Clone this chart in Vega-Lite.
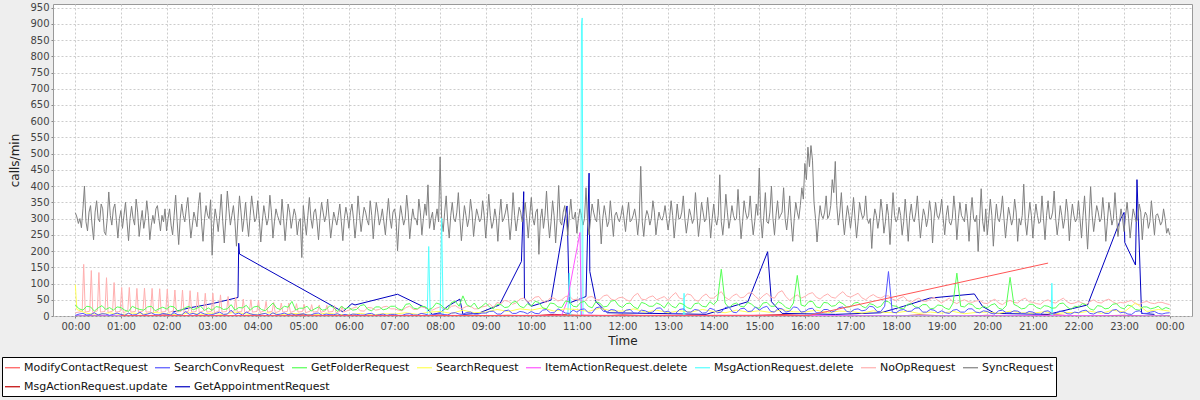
{
  "$schema": "https://vega.github.io/schema/vega-lite/v6.json",
  "width": 1139,
  "height": 312,
  "autosize": "none",
  "padding": {"left": 53, "top": 4, "right": 8, "bottom": 84},
  "background": "#EEEEEE",
  "config": {
    "view": {"fill": "white", "stroke": "#999999", "strokeWidth": 1},
    "font": "DejaVu Sans",
    "axis": {
      "grid": true, "gridColor": "#CCCCCC", "gridDash": [2, 2], "gridWidth": 1,
      "domain": false, "tickColor": "#888888", "tickSize": 2,
      "labelFont": "DejaVu Sans", "labelFontSize": 10, "labelColor": "#444444",
      "titleFont": "DejaVu Sans", "titleFontSize": 12, "titleFontWeight": "normal", "titleColor": "#222222"
    },
    "legend": {
      "labelFont": "DejaVu Sans", "labelFontSize": 11, "labelColor": "#111111"
    }
  },
  "datasets": {
    "sync": [
{"t":0,"v":318},{"t":2,"v":305},{"t":4,"v":285},{"t":6,"v":300},{"t":8,"v":272},{"t":10,"v":330},{"t":12,"v":400},{"t":14,"v":290},{"t":16,"v":262},{"t":18,"v":320},{"t":20,"v":340},{"t":22,"v":280},{"t":24,"v":235},{"t":26,"v":320},{"t":28,"v":355},{"t":30,"v":300},{"t":32,"v":290},{"t":34,"v":345},{"t":36,"v":330},{"t":38,"v":260},{"t":40,"v":250},{"t":42,"v":300},{"t":44,"v":382},{"t":46,"v":310},{"t":48,"v":280},{"t":50,"v":330},{"t":52,"v":345},{"t":54,"v":295},{"t":56,"v":240},{"t":58,"v":300},
{"t":60,"v":325},{"t":62,"v":270},{"t":64,"v":310},{"t":66,"v":350},{"t":68,"v":290},{"t":70,"v":232},{"t":72,"v":300},{"t":74,"v":338},{"t":76,"v":300},{"t":78,"v":280},{"t":80,"v":360},{"t":82,"v":320},{"t":84,"v":245},{"t":86,"v":290},{"t":88,"v":325},{"t":90,"v":270},{"t":92,"v":300},{"t":94,"v":355},{"t":96,"v":310},{"t":98,"v":235},{"t":100,"v":280},{"t":102,"v":310},{"t":104,"v":285},{"t":106,"v":330},{"t":108,"v":340},{"t":110,"v":300},{"t":112,"v":262},{"t":114,"v":310},{"t":116,"v":290},{"t":118,"v":330},
{"t":120,"v":262},{"t":122,"v":300},{"t":124,"v":330},{"t":126,"v":280},{"t":128,"v":250},{"t":130,"v":310},{"t":132,"v":372},{"t":134,"v":290},{"t":136,"v":220},{"t":138,"v":300},{"t":140,"v":345},{"t":142,"v":310},{"t":144,"v":290},{"t":146,"v":330},{"t":148,"v":365},{"t":150,"v":300},{"t":152,"v":240},{"t":154,"v":280},{"t":156,"v":320},{"t":158,"v":300},{"t":160,"v":275},{"t":162,"v":340},{"t":164,"v":380},{"t":166,"v":290},{"t":168,"v":230},{"t":170,"v":300},{"t":172,"v":340},{"t":174,"v":310},{"t":176,"v":300},{"t":178,"v":358},
{"t":180,"v":187},{"t":182,"v":280},{"t":184,"v":330},{"t":186,"v":300},{"t":188,"v":260},{"t":190,"v":310},{"t":192,"v":375},{"t":194,"v":290},{"t":196,"v":225},{"t":198,"v":300},{"t":200,"v":385},{"t":202,"v":330},{"t":204,"v":280},{"t":206,"v":310},{"t":208,"v":340},{"t":210,"v":290},{"t":212,"v":215},{"t":214,"v":300},{"t":216,"v":370},{"t":218,"v":320},{"t":220,"v":260},{"t":222,"v":300},{"t":224,"v":350},{"t":226,"v":290},{"t":228,"v":245},{"t":230,"v":310},{"t":232,"v":370},{"t":234,"v":330},{"t":236,"v":290},{"t":238,"v":300},
{"t":240,"v":355},{"t":242,"v":300},{"t":244,"v":228},{"t":246,"v":290},{"t":248,"v":340},{"t":250,"v":310},{"t":252,"v":280},{"t":254,"v":300},{"t":256,"v":372},{"t":258,"v":320},{"t":260,"v":240},{"t":262,"v":290},{"t":264,"v":330},{"t":266,"v":310},{"t":268,"v":295},{"t":270,"v":280},{"t":272,"v":360},{"t":274,"v":300},{"t":276,"v":232},{"t":278,"v":290},{"t":280,"v":345},{"t":282,"v":320},{"t":284,"v":270},{"t":286,"v":300},{"t":288,"v":330},{"t":290,"v":310},{"t":292,"v":250},{"t":294,"v":290},{"t":296,"v":300},{"t":298,"v":180},
{"t":300,"v":340},{"t":302,"v":290},{"t":304,"v":250},{"t":306,"v":310},{"t":308,"v":365},{"t":310,"v":300},{"t":312,"v":270},{"t":314,"v":320},{"t":316,"v":330},{"t":318,"v":290},{"t":320,"v":235},{"t":322,"v":300},{"t":324,"v":350},{"t":326,"v":320},{"t":328,"v":290},{"t":330,"v":310},{"t":332,"v":360},{"t":334,"v":300},{"t":336,"v":240},{"t":338,"v":280},{"t":340,"v":320},{"t":342,"v":300},{"t":344,"v":280},{"t":346,"v":310},{"t":348,"v":345},{"t":350,"v":290},{"t":352,"v":232},{"t":354,"v":300},{"t":356,"v":335},{"t":358,"v":310},
{"t":360,"v":270},{"t":362,"v":320},{"t":364,"v":345},{"t":366,"v":300},{"t":368,"v":240},{"t":370,"v":290},{"t":372,"v":370},{"t":374,"v":310},{"t":376,"v":260},{"t":378,"v":300},{"t":380,"v":335},{"t":382,"v":320},{"t":384,"v":295},{"t":386,"v":280},{"t":388,"v":355},{"t":390,"v":310},{"t":392,"v":238},{"t":394,"v":300},{"t":396,"v":350},{"t":398,"v":320},{"t":400,"v":280},{"t":402,"v":300},{"t":404,"v":330},{"t":406,"v":290},{"t":408,"v":250},{"t":410,"v":310},{"t":412,"v":362},{"t":414,"v":300},{"t":416,"v":270},{"t":418,"v":320},
{"t":420,"v":330},{"t":422,"v":300},{"t":424,"v":201},{"t":426,"v":290},{"t":428,"v":340},{"t":430,"v":310},{"t":432,"v":280},{"t":434,"v":300},{"t":436,"v":372},{"t":438,"v":320},{"t":440,"v":238},{"t":442,"v":290},{"t":444,"v":330},{"t":446,"v":300},{"t":448,"v":300},{"t":450,"v":280},{"t":452,"v":360},{"t":454,"v":320},{"t":456,"v":250},{"t":458,"v":300},{"t":460,"v":345},{"t":462,"v":310},{"t":464,"v":404},{"t":466,"v":270},{"t":468,"v":300},{"t":470,"v":320},{"t":472,"v":265},{"t":474,"v":300},{"t":476,"v":330},{"t":478,"v":290},
{"t":480,"v":490},{"t":482,"v":300},{"t":484,"v":260},{"t":486,"v":320},{"t":488,"v":370},{"t":490,"v":290},{"t":492,"v":240},{"t":494,"v":310},{"t":496,"v":350},{"t":498,"v":300},{"t":500,"v":290},{"t":502,"v":320},{"t":504,"v":380},{"t":506,"v":300},{"t":508,"v":232},{"t":510,"v":290},{"t":512,"v":340},{"t":514,"v":310},{"t":516,"v":275},{"t":518,"v":300},{"t":520,"v":360},{"t":522,"v":320},{"t":524,"v":245},{"t":526,"v":290},{"t":528,"v":330},{"t":530,"v":310},{"t":532,"v":290},{"t":534,"v":300},{"t":536,"v":355},{"t":538,"v":310},
{"t":540,"v":240},{"t":542,"v":300},{"t":544,"v":375},{"t":546,"v":310},{"t":548,"v":270},{"t":550,"v":290},{"t":552,"v":330},{"t":554,"v":300},{"t":556,"v":230},{"t":558,"v":310},{"t":560,"v":360},{"t":562,"v":290},{"t":564,"v":300},{"t":566,"v":320},{"t":568,"v":345},{"t":570,"v":300},{"t":572,"v":235},{"t":574,"v":290},{"t":576,"v":380},{"t":578,"v":310},{"t":580,"v":262},{"t":582,"v":300},{"t":584,"v":335},{"t":586,"v":320},{"t":588,"v":290},{"t":590,"v":310},{"t":592,"v":350},{"t":594,"v":300},{"t":596,"v":240},{"t":598,"v":310},
{"t":600,"v":365},{"t":602,"v":300},{"t":604,"v":280},{"t":606,"v":320},{"t":608,"v":330},{"t":610,"v":190},{"t":612,"v":300},{"t":614,"v":330},{"t":616,"v":270},{"t":618,"v":310},{"t":620,"v":385},{"t":622,"v":300},{"t":624,"v":240},{"t":626,"v":290},{"t":628,"v":355},{"t":630,"v":310},{"t":632,"v":225},{"t":634,"v":300},{"t":636,"v":402},{"t":638,"v":290},{"t":640,"v":280},{"t":642,"v":320},{"t":644,"v":340},{"t":646,"v":300},{"t":648,"v":248},{"t":650,"v":310},{"t":652,"v":360},{"t":654,"v":300},{"t":656,"v":300},{"t":658,"v":320},
{"t":660,"v":255},{"t":662,"v":300},{"t":664,"v":330},{"t":666,"v":310},{"t":668,"v":280},{"t":670,"v":300},{"t":672,"v":395},{"t":674,"v":290},{"t":676,"v":250},{"t":678,"v":300},{"t":680,"v":345},{"t":682,"v":320},{"t":684,"v":300},{"t":686,"v":290},{"t":688,"v":360},{"t":690,"v":310},{"t":692,"v":222},{"t":694,"v":300},{"t":696,"v":340},{"t":698,"v":310},{"t":700,"v":275},{"t":702,"v":290},{"t":704,"v":355},{"t":706,"v":300},{"t":708,"v":245},{"t":710,"v":310},{"t":712,"v":320},{"t":714,"v":300},{"t":716,"v":290},{"t":718,"v":310},
{"t":720,"v":340},{"t":722,"v":300},{"t":724,"v":260},{"t":726,"v":310},{"t":728,"v":350},{"t":730,"v":290},{"t":732,"v":295},{"t":734,"v":310},{"t":736,"v":330},{"t":738,"v":300},{"t":740,"v":250},{"t":742,"v":300},{"t":744,"v":461},{"t":746,"v":290},{"t":748,"v":245},{"t":750,"v":300},{"t":752,"v":325},{"t":754,"v":310},{"t":756,"v":280},{"t":758,"v":300},{"t":760,"v":355},{"t":762,"v":320},{"t":764,"v":250},{"t":766,"v":290},{"t":768,"v":320},{"t":770,"v":300},{"t":772,"v":295},{"t":774,"v":310},{"t":776,"v":340},{"t":778,"v":300},
{"t":780,"v":265},{"t":782,"v":300},{"t":784,"v":355},{"t":786,"v":310},{"t":788,"v":240},{"t":790,"v":290},{"t":792,"v":345},{"t":794,"v":300},{"t":796,"v":300},{"t":798,"v":320},{"t":800,"v":370},{"t":802,"v":300},{"t":804,"v":255},{"t":806,"v":290},{"t":808,"v":330},{"t":810,"v":310},{"t":812,"v":285},{"t":814,"v":300},{"t":816,"v":380},{"t":818,"v":310},{"t":820,"v":245},{"t":822,"v":290},{"t":824,"v":350},{"t":826,"v":320},{"t":828,"v":290},{"t":830,"v":300},{"t":832,"v":365},{"t":834,"v":310},{"t":836,"v":240},{"t":838,"v":300},
{"t":840,"v":345},{"t":842,"v":300},{"t":844,"v":280},{"t":846,"v":310},{"t":848,"v":435},{"t":850,"v":290},{"t":852,"v":250},{"t":854,"v":300},{"t":856,"v":375},{"t":858,"v":320},{"t":860,"v":270},{"t":862,"v":300},{"t":864,"v":340},{"t":866,"v":310},{"t":868,"v":295},{"t":870,"v":300},{"t":872,"v":390},{"t":874,"v":310},{"t":876,"v":238},{"t":878,"v":290},{"t":880,"v":355},{"t":882,"v":320},{"t":884,"v":300},{"t":886,"v":310},{"t":888,"v":370},{"t":890,"v":300},{"t":892,"v":250},{"t":894,"v":290},{"t":896,"v":345},{"t":898,"v":310},
{"t":900,"v":456},{"t":902,"v":300},{"t":904,"v":240},{"t":906,"v":310},{"t":908,"v":380},{"t":910,"v":290},{"t":912,"v":285},{"t":914,"v":320},{"t":916,"v":400},{"t":918,"v":300},{"t":920,"v":250},{"t":922,"v":310},{"t":924,"v":355},{"t":926,"v":300},{"t":928,"v":310},{"t":930,"v":320},{"t":932,"v":395},{"t":934,"v":300},{"t":936,"v":265},{"t":938,"v":310},{"t":940,"v":370},{"t":942,"v":290},{"t":944,"v":230},{"t":946,"v":300},{"t":948,"v":350},{"t":950,"v":320},{"t":952,"v":300},{"t":954,"v":340},{"t":956,"v":395},{"t":958,"v":360},
{"t":960,"v":470},{"t":962,"v":420},{"t":964,"v":520},{"t":966,"v":460},{"t":968,"v":525},{"t":970,"v":480},{"t":972,"v":350},{"t":974,"v":300},{"t":976,"v":228},{"t":978,"v":290},{"t":980,"v":340},{"t":982,"v":310},{"t":984,"v":300},{"t":986,"v":320},{"t":988,"v":370},{"t":990,"v":300},{"t":992,"v":310},{"t":994,"v":340},{"t":996,"v":420},{"t":998,"v":380},{"t":1000,"v":476},{"t":1002,"v":340},{"t":1004,"v":280},{"t":1006,"v":320},{"t":1008,"v":380},{"t":1010,"v":300},{"t":1012,"v":250},{"t":1014,"v":300},{"t":1016,"v":340},{"t":1018,"v":310},
{"t":1020,"v":270},{"t":1022,"v":310},{"t":1024,"v":365},{"t":1026,"v":300},{"t":1028,"v":240},{"t":1030,"v":290},{"t":1032,"v":350},{"t":1034,"v":320},{"t":1036,"v":300},{"t":1038,"v":310},{"t":1040,"v":370},{"t":1042,"v":300},{"t":1044,"v":285},{"t":1046,"v":300},{"t":1048,"v":208},{"t":1050,"v":290},{"t":1052,"v":330},{"t":1054,"v":310},{"t":1056,"v":270},{"t":1058,"v":300},{"t":1060,"v":360},{"t":1062,"v":320},{"t":1064,"v":255},{"t":1066,"v":290},{"t":1068,"v":345},{"t":1070,"v":310},{"t":1072,"v":220},{"t":1074,"v":300},{"t":1076,"v":380},{"t":1078,"v":310},
{"t":1080,"v":290},{"t":1082,"v":300},{"t":1084,"v":335},{"t":1086,"v":310},{"t":1088,"v":250},{"t":1090,"v":290},{"t":1092,"v":360},{"t":1094,"v":300},{"t":1096,"v":230},{"t":1098,"v":310},{"t":1100,"v":345},{"t":1102,"v":300},{"t":1104,"v":290},{"t":1106,"v":320},{"t":1108,"v":370},{"t":1110,"v":300},{"t":1112,"v":240},{"t":1114,"v":290},{"t":1116,"v":330},{"t":1118,"v":310},{"t":1120,"v":275},{"t":1122,"v":300},{"t":1124,"v":355},{"t":1126,"v":320},{"t":1128,"v":225},{"t":1130,"v":300},{"t":1132,"v":350},{"t":1134,"v":310},{"t":1136,"v":300},{"t":1138,"v":320},
{"t":1140,"v":360},{"t":1142,"v":300},{"t":1144,"v":250},{"t":1146,"v":310},{"t":1148,"v":340},{"t":1150,"v":290},{"t":1152,"v":280},{"t":1154,"v":300},{"t":1156,"v":370},{"t":1158,"v":320},{"t":1160,"v":235},{"t":1162,"v":300},{"t":1164,"v":350},{"t":1166,"v":310},{"t":1168,"v":300},{"t":1170,"v":290},{"t":1172,"v":345},{"t":1174,"v":300},{"t":1176,"v":230},{"t":1178,"v":310},{"t":1180,"v":365},{"t":1182,"v":300},{"t":1184,"v":290},{"t":1186,"v":310},{"t":1188,"v":199},{"t":1190,"v":300},{"t":1192,"v":392},{"t":1194,"v":290},{"t":1196,"v":260},{"t":1198,"v":330},
{"t":1200,"v":250},{"t":1202,"v":300},{"t":1204,"v":360},{"t":1206,"v":310},{"t":1208,"v":215},{"t":1210,"v":290},{"t":1212,"v":345},{"t":1214,"v":300},{"t":1216,"v":290},{"t":1218,"v":320},{"t":1220,"v":370},{"t":1222,"v":300},{"t":1224,"v":240},{"t":1226,"v":290},{"t":1228,"v":335},{"t":1230,"v":310},{"t":1232,"v":280},{"t":1234,"v":300},{"t":1236,"v":360},{"t":1238,"v":320},{"t":1240,"v":230},{"t":1242,"v":300},{"t":1244,"v":280},{"t":1246,"v":310},{"t":1248,"v":406},{"t":1250,"v":290},{"t":1252,"v":250},{"t":1254,"v":300},{"t":1256,"v":350},{"t":1258,"v":310},
{"t":1260,"v":240},{"t":1262,"v":300},{"t":1264,"v":345},{"t":1266,"v":310},{"t":1268,"v":285},{"t":1270,"v":290},{"t":1272,"v":370},{"t":1274,"v":300},{"t":1276,"v":235},{"t":1278,"v":310},{"t":1280,"v":355},{"t":1282,"v":300},{"t":1284,"v":300},{"t":1286,"v":320},{"t":1288,"v":385},{"t":1290,"v":300},{"t":1292,"v":250},{"t":1294,"v":290},{"t":1296,"v":340},{"t":1298,"v":310},{"t":1300,"v":270},{"t":1302,"v":300},{"t":1304,"v":360},{"t":1306,"v":320},{"t":1308,"v":232},{"t":1310,"v":300},{"t":1312,"v":345},{"t":1314,"v":310},{"t":1316,"v":290},{"t":1318,"v":300},
{"t":1320,"v":355},{"t":1322,"v":300},{"t":1324,"v":240},{"t":1326,"v":310},{"t":1328,"v":370},{"t":1330,"v":290},{"t":1332,"v":206},{"t":1334,"v":300},{"t":1336,"v":398},{"t":1338,"v":310},{"t":1340,"v":260},{"t":1342,"v":300},{"t":1344,"v":340},{"t":1346,"v":320},{"t":1348,"v":290},{"t":1350,"v":300},{"t":1352,"v":365},{"t":1354,"v":310},{"t":1356,"v":230},{"t":1358,"v":290},{"t":1360,"v":350},{"t":1362,"v":320},{"t":1364,"v":280},{"t":1366,"v":300},{"t":1368,"v":380},{"t":1370,"v":310},{"t":1372,"v":245},{"t":1374,"v":290},{"t":1376,"v":330},{"t":1378,"v":300},
{"t":1380,"v":260},{"t":1382,"v":310},{"t":1384,"v":350},{"t":1386,"v":300},{"t":1388,"v":240},{"t":1390,"v":290},{"t":1392,"v":330},{"t":1394,"v":310},{"t":1396,"v":290},{"t":1398,"v":300},{"t":1400,"v":345},{"t":1402,"v":320},{"t":1404,"v":235},{"t":1406,"v":300},{"t":1408,"v":320},{"t":1410,"v":310},{"t":1412,"v":270},{"t":1414,"v":290},{"t":1416,"v":355},{"t":1418,"v":300},{"t":1420,"v":250},{"t":1422,"v":310},{"t":1424,"v":315},{"t":1426,"v":300},{"t":1428,"v":280},{"t":1430,"v":290},{"t":1432,"v":330},{"t":1434,"v":300},{"t":1436,"v":255},{"t":1438,"v":270},{"t":1440,"v":250}
    ],
    "m5": [
{"t":0,"g":34,"b":2},{"t":5,"g":22,"b":6},{"t":10,"g":18,"b":8},{"t":15,"g":30,"b":3},{"t":20,"g":28,"b":4},{"t":25,"g":15,"b":10},{"t":30,"g":25,"b":3},{"t":35,"g":32,"b":7},{"t":40,"g":20,"b":6},{"t":45,"g":26,"b":2},{"t":50,"g":18,"b":5},{"t":55,"g":28,"b":9},
{"t":60,"g":26,"b":5},{"t":65,"g":18,"b":2},{"t":70,"g":14,"b":9},{"t":75,"g":30,"b":3},{"t":80,"g":24,"b":4},{"t":85,"g":20,"b":12},{"t":90,"g":18,"b":3},{"t":95,"g":28,"b":6},{"t":100,"g":30,"b":10},{"t":105,"g":16,"b":4},{"t":110,"g":22,"b":3},{"t":115,"g":27,"b":8},
{"t":120,"g":22,"b":6},{"t":125,"g":30,"b":3},{"t":130,"g":28,"b":10},{"t":135,"g":15,"b":4},{"t":140,"g":19,"b":3},{"t":145,"g":26,"b":14},{"t":150,"g":30,"b":5},{"t":155,"g":19,"b":8},{"t":160,"g":24,"b":4},{"t":165,"g":30,"b":11},{"t":170,"g":17,"b":6},{"t":175,"g":25,"b":3},
{"t":180,"g":17,"b":4},{"t":185,"g":29,"b":8},{"t":190,"g":27,"b":12},{"t":195,"g":20,"b":5},{"t":200,"g":22,"b":6},{"t":205,"g":35,"b":18},{"t":210,"g":18,"b":5},{"t":215,"g":26,"b":9},{"t":220,"g":25,"b":3},{"t":225,"g":33,"b":12},{"t":230,"g":18,"b":7},{"t":235,"g":28,"b":4},
{"t":240,"g":30,"b":3},{"t":245,"g":20,"b":6},{"t":250,"g":16,"b":8},{"t":255,"g":28,"b":2},{"t":260,"g":40,"b":10},{"t":265,"g":24,"b":4},{"t":270,"g":20,"b":6},{"t":275,"g":30,"b":9},{"t":280,"g":27,"b":4},{"t":285,"g":45,"b":7},{"t":290,"g":18,"b":2},{"t":295,"g":24,"b":5},
{"t":300,"g":24,"b":7},{"t":305,"g":30,"b":3},{"t":310,"g":15,"b":3},{"t":315,"g":22,"b":8},{"t":320,"g":28,"b":9},{"t":325,"g":18,"b":2},{"t":330,"g":20,"b":6},{"t":335,"g":32,"b":4},{"t":340,"g":26,"b":4},{"t":345,"g":14,"b":7},{"t":350,"g":30,"b":2},{"t":355,"g":22,"b":5},
{"t":360,"g":26,"b":2},{"t":365,"g":18,"b":6},{"t":370,"g":20,"b":5},{"t":375,"g":32,"b":3},{"t":380,"g":35,"b":3},{"t":385,"g":20,"b":7},{"t":390,"g":16,"b":8},{"t":395,"g":28,"b":2},{"t":400,"g":28,"b":4},{"t":405,"g":19,"b":6},{"t":410,"g":22,"b":2},{"t":415,"g":30,"b":5},
{"t":420,"g":30,"b":5},{"t":425,"g":22,"b":2},{"t":430,"g":18,"b":2},{"t":435,"g":36,"b":6},{"t":440,"g":38,"b":7},{"t":445,"g":24,"b":3},{"t":450,"g":22,"b":3},{"t":455,"g":30,"b":8},{"t":460,"g":29,"b":6},{"t":465,"g":20,"b":2},{"t":470,"g":25,"b":4},{"t":475,"g":40,"b":6},
{"t":480,"g":36,"b":8},{"t":485,"g":25,"b":4},{"t":490,"g":20,"b":3},{"t":495,"g":42,"b":9},{"t":500,"g":45,"b":10},{"t":505,"g":30,"b":6},{"t":510,"g":62,"b":5},{"t":515,"g":35,"b":11},{"t":520,"g":28,"b":12},{"t":525,"g":40,"b":6},{"t":530,"g":22,"b":6},{"t":535,"g":30,"b":9},
{"t":540,"g":40,"b":9},{"t":545,"g":28,"b":14},{"t":550,"g":22,"b":15},{"t":555,"g":36,"b":6},{"t":560,"g":35,"b":6},{"t":565,"g":26,"b":16},{"t":570,"g":28,"b":18},{"t":575,"g":42,"b":8},{"t":580,"g":45,"b":8},{"t":585,"g":30,"b":14},{"t":590,"g":25,"b":12},{"t":595,"g":38,"b":7},
{"t":600,"g":30,"b":14},{"t":605,"g":45,"b":8},{"t":610,"g":42,"b":7},{"t":615,"g":25,"b":18},{"t":620,"g":22,"b":20},{"t":625,"g":40,"b":10},{"t":630,"g":38,"b":10},{"t":635,"g":28,"b":22},{"t":640,"g":26,"b":16},{"t":645,"g":46,"b":9},{"t":650,"g":44,"b":8},{"t":655,"g":30,"b":18},
{"t":660,"g":28,"b":12},{"t":665,"g":42,"b":20},{"t":670,"g":45,"b":22},{"t":675,"g":30,"b":10},{"t":680,"g":25,"b":9},{"t":685,"g":44,"b":25},{"t":690,"g":40,"b":28},{"t":695,"g":28,"b":14},{"t":700,"g":30,"b":13},{"t":705,"g":46,"b":20},{"t":710,"g":48,"b":18},{"t":715,"g":32,"b":10},
{"t":720,"g":26,"b":10},{"t":725,"g":38,"b":18},{"t":730,"g":40,"b":20},{"t":735,"g":28,"b":9},{"t":740,"g":22,"b":8},{"t":745,"g":42,"b":18},{"t":750,"g":38,"b":16},{"t":755,"g":30,"b":10},{"t":760,"g":30,"b":12},{"t":765,"g":40,"b":24},{"t":770,"g":35,"b":25},{"t":775,"g":25,"b":12},
{"t":780,"g":42,"b":15},{"t":785,"g":30,"b":8},{"t":790,"g":25,"b":8},{"t":795,"g":40,"b":20},{"t":800,"g":36,"b":22},{"t":805,"g":26,"b":12},{"t":810,"g":22,"b":12},{"t":815,"g":38,"b":20},{"t":820,"g":40,"b":18},{"t":825,"g":30,"b":9},{"t":830,"g":28,"b":10},{"t":835,"g":44,"b":24},
{"t":840,"g":35,"b":20},{"t":845,"g":48,"b":10},{"t":850,"g":144,"b":12},{"t":855,"g":40,"b":26},{"t":860,"g":25,"b":28},{"t":865,"g":36,"b":12},{"t":870,"g":40,"b":10},{"t":875,"g":30,"b":22},{"t":880,"g":28,"b":24},{"t":885,"g":42,"b":14},{"t":890,"g":36,"b":15},{"t":895,"g":26,"b":28},
{"t":900,"g":24,"b":18},{"t":905,"g":40,"b":26},{"t":910,"g":42,"b":30},{"t":915,"g":30,"b":14},{"t":920,"g":30,"b":12},{"t":925,"g":44,"b":24},{"t":930,"g":38,"b":22},{"t":935,"g":26,"b":12},{"t":940,"g":22,"b":15},{"t":945,"g":40,"b":28},{"t":950,"g":125,"b":26},{"t":955,"g":34,"b":12},
{"t":960,"g":30,"b":14},{"t":965,"g":44,"b":22},{"t":970,"g":45,"b":24},{"t":975,"g":28,"b":10},{"t":980,"g":25,"b":10},{"t":985,"g":42,"b":20},{"t":990,"g":40,"b":20},{"t":995,"g":30,"b":12},{"t":1000,"g":32,"b":16},{"t":1005,"g":44,"b":26},{"t":1010,"g":38,"b":28},{"t":1015,"g":28,"b":14},
{"t":1020,"g":28,"b":12},{"t":1025,"g":40,"b":20},{"t":1030,"g":42,"b":22},{"t":1035,"g":30,"b":16},{"t":1040,"g":25,"b":18},{"t":1045,"g":38,"b":30},{"t":1050,"g":35,"b":28},{"t":1055,"g":26,"b":14},{"t":1060,"g":30,"b":14},{"t":1065,"g":46,"b":30},{"t":1070,"g":44,"b":137},{"t":1075,"g":32,"b":12},
{"t":1080,"g":30,"b":10},{"t":1085,"g":24,"b":18},{"t":1090,"g":22,"b":20},{"t":1095,"g":36,"b":14},{"t":1100,"g":38,"b":15},{"t":1105,"g":28,"b":24},{"t":1110,"g":26,"b":25},{"t":1115,"g":35,"b":12},{"t":1120,"g":35,"b":12},{"t":1125,"g":22,"b":20},{"t":1130,"g":24,"b":18},{"t":1135,"g":34,"b":10},
{"t":1140,"g":32,"b":16},{"t":1145,"g":24,"b":10},{"t":1150,"g":20,"b":8},{"t":1155,"g":40,"b":18},{"t":1160,"g":132,"b":20},{"t":1165,"g":30,"b":12},{"t":1170,"g":28,"b":12},{"t":1175,"g":38,"b":22},{"t":1180,"g":36,"b":22},{"t":1185,"g":24,"b":12},{"t":1190,"g":22,"b":10},{"t":1195,"g":30,"b":16},
{"t":1200,"g":25,"b":14},{"t":1205,"g":34,"b":8},{"t":1210,"g":38,"b":6},{"t":1215,"g":24,"b":16},{"t":1220,"g":20,"b":18},{"t":1225,"g":32,"b":10},{"t":1230,"g":119,"b":10},{"t":1235,"g":36,"b":16},{"t":1240,"g":30,"b":15},{"t":1245,"g":22,"b":8},{"t":1250,"g":24,"b":8},{"t":1255,"g":36,"b":14},
{"t":1260,"g":36,"b":12},{"t":1265,"g":26,"b":6},{"t":1270,"g":22,"b":5},{"t":1275,"g":32,"b":14},{"t":1280,"g":30,"b":16},{"t":1285,"g":24,"b":8},{"t":1290,"g":25,"b":8},{"t":1295,"g":38,"b":15},{"t":1300,"g":40,"b":14},{"t":1305,"g":28,"b":7},{"t":1310,"g":20,"b":6},{"t":1315,"g":30,"b":12},
{"t":1320,"g":28,"b":10},{"t":1325,"g":38,"b":16},{"t":1330,"g":35,"b":18},{"t":1335,"g":22,"b":8},{"t":1340,"g":18,"b":6},{"t":1345,"g":32,"b":12},{"t":1350,"g":30,"b":14},{"t":1355,"g":22,"b":8},{"t":1360,"g":24,"b":8},{"t":1365,"g":36,"b":18},{"t":1370,"g":38,"b":20},{"t":1375,"g":26,"b":10},
{"t":1380,"g":22,"b":12},{"t":1385,"g":34,"b":6},{"t":1390,"g":30,"b":5},{"t":1395,"g":20,"b":14},{"t":1400,"g":18,"b":16},{"t":1405,"g":28,"b":8},{"t":1410,"g":28,"b":8},{"t":1415,"g":22,"b":12},{"t":1420,"g":25,"b":14},{"t":1425,"g":30,"b":8},{"t":1430,"g":20,"b":6},{"t":1435,"g":26,"b":9},{"t":1440,"g":22,"b":10}
    ],
    "appt": [
{"t":128,"v":12},{"t":150,"v":25},{"t":180,"v":38},{"t":214,"v":57},{"t":215,"v":224},{"t":216,"v":191},{"t":352,"v":13},{"t":360,"v":30},{"t":364,"v":38},{"t":368,"v":34},{"t":424,"v":67},{"t":462,"v":24},{"t":470,"v":5},{"t":480,"v":10},{"t":490,"v":30},{"t":506,"v":52},{"t":510,"v":5},{"t":530,"v":8},{"t":558,"v":34},{"t":587,"v":168},{"t":590,"v":383},{"t":591,"v":55},{"t":600,"v":30},{"t":626,"v":49},{"t":647,"v":339},{"t":650,"v":40},{"t":672,"v":60},{"t":676,"v":440},{"t":677,"v":137},{"t":685,"v":44},{"t":700,"v":10},{"t":760,"v":8},{"t":830,"v":5},{"t":885,"v":44},{"t":911,"v":198},{"t":916,"v":44},{"t":930,"v":8},{"t":1000,"v":5},{"t":1060,"v":10},{"t":1090,"v":30},{"t":1124,"v":55},{"t":1183,"v":68},{"t":1194,"v":29},{"t":1210,"v":8},{"t":1280,"v":5},{"t":1332,"v":34},{"t":1376,"v":301},{"t":1380,"v":319},{"t":1381,"v":226},{"t":1395,"v":157},{"t":1397,"v":420},{"t":1403,"v":8},{"t":1420,"v":5}
    ],
    "modify": [
{"t":60,"v":1},{"t":400,"v":1},{"t":640,"v":2},{"t":966,"v":2},{"t":1280,"v":163}
    ],
    "update": [
{"t":0,"v":0},{"t":30,"v":2},{"t":60,"v":0},{"t":90,"v":1},{"t":120,"v":3},{"t":150,"v":0},{"t":180,"v":1},{"t":210,"v":0},{"t":240,"v":2},{"t":270,"v":0},{"t":300,"v":4},{"t":330,"v":1},{"t":360,"v":0},{"t":390,"v":2},{"t":420,"v":1},{"t":450,"v":0},{"t":480,"v":3},{"t":510,"v":0},{"t":540,"v":1},{"t":570,"v":2},{"t":600,"v":0},{"t":630,"v":5},{"t":660,"v":2},{"t":690,"v":0},{"t":720,"v":3},{"t":750,"v":1},{"t":780,"v":0},{"t":810,"v":2},{"t":840,"v":1},{"t":870,"v":0},{"t":900,"v":2},{"t":930,"v":4},{"t":960,"v":1},{"t":990,"v":0},{"t":1020,"v":2},{"t":1050,"v":1},{"t":1080,"v":0},{"t":1110,"v":3},{"t":1140,"v":1},{"t":1170,"v":0},{"t":1200,"v":2},{"t":1230,"v":0},{"t":1260,"v":1},{"t":1290,"v":3},{"t":1320,"v":0},{"t":1350,"v":1},{"t":1380,"v":2},{"t":1410,"v":0},{"t":1440,"v":1}
    ],
    "itemdel": [
{"t":0,"v":0},{"t":120,"v":1},{"t":300,"v":0},{"t":480,"v":2},{"t":600,"v":1},{"t":640,"v":3},{"t":647,"v":44},{"t":664,"v":257},{"t":666,"v":3},{"t":700,"v":1},{"t":900,"v":2},{"t":1100,"v":0},{"t":1300,"v":1},{"t":1440,"v":0}
    ],
    "msgdel": [
{"t":0,"v":0},{"t":100,"v":1},{"t":200,"v":0},{"t":300,"v":1},{"t":400,"v":0},{"t":463,"v":0},{"t":465,"v":214},{"t":467,"v":0},{"t":480,"v":0},{"t":482,"v":301},{"t":484,"v":0},{"t":550,"v":1},{"t":648,"v":0},{"t":650,"v":132},{"t":652,"v":0},{"t":665,"v":0},{"t":666,"v":900},{"t":667,"v":918},{"t":668,"v":0},{"t":800,"v":0},{"t":801,"v":70},{"t":802,"v":0},{"t":1000,"v":1},{"t":1284,"v":0},{"t":1285,"v":101},{"t":1286,"v":0},{"t":1440,"v":0}
    ],
    "noop": [
{"t":0,"v":10},{"t":9,"v":14},{"t":11,"v":159},{"t":13,"v":12},{"t":19,"v":15},{"t":21,"v":140},{"t":23,"v":10},{"t":29,"v":16},{"t":31,"v":134},{"t":33,"v":12},{"t":39,"v":14},{"t":41,"v":118},{"t":43,"v":11},{"t":49,"v":15},{"t":51,"v":103},{"t":53,"v":12},{"t":59,"v":14},{"t":61,"v":88},{"t":63,"v":10},{"t":69,"v":16},{"t":71,"v":88},{"t":73,"v":12},{"t":79,"v":14},{"t":81,"v":85},{"t":83,"v":11},{"t":89,"v":15},{"t":91,"v":86},{"t":93,"v":12},{"t":99,"v":13},{"t":101,"v":85},{"t":103,"v":10},{"t":109,"v":15},{"t":111,"v":84},{"t":113,"v":12},{"t":119,"v":14},{"t":121,"v":83},{"t":123,"v":11},{"t":129,"v":16},{"t":131,"v":80},{"t":133,"v":12},{"t":139,"v":14},{"t":141,"v":80},{"t":143,"v":10},{"t":149,"v":15},{"t":151,"v":78},{"t":153,"v":12},{"t":159,"v":14},{"t":161,"v":73},{"t":163,"v":11},{"t":169,"v":16},{"t":171,"v":70},{"t":173,"v":12},{"t":179,"v":14},{"t":181,"v":70},{"t":183,"v":10},{"t":189,"v":15},{"t":191,"v":65},{"t":193,"v":12},{"t":199,"v":14},{"t":201,"v":60},{"t":203,"v":11},{"t":209,"v":16},{"t":211,"v":58},{"t":213,"v":12},{"t":219,"v":14},{"t":221,"v":52},{"t":223,"v":10},{"t":229,"v":15},{"t":231,"v":50},{"t":233,"v":12},{"t":239,"v":14},{"t":241,"v":48},{"t":243,"v":11},{"t":249,"v":16},{"t":251,"v":45},{"t":253,"v":12},{"t":259,"v":14},{"t":261,"v":42},{"t":263,"v":10},{"t":269,"v":15},{"t":271,"v":40},{"t":273,"v":12},{"t":279,"v":14},{"t":281,"v":40},{"t":283,"v":11},{"t":289,"v":16},{"t":291,"v":38},{"t":293,"v":12},{"t":299,"v":14},{"t":301,"v":36},{"t":303,"v":10},{"t":309,"v":15},{"t":311,"v":35},{"t":313,"v":12},{"t":319,"v":14},{"t":321,"v":34},{"t":323,"v":11},{"t":329,"v":16},{"t":331,"v":33},{"t":333,"v":12},{"t":339,"v":14},{"t":341,"v":32},{"t":343,"v":10},{"t":349,"v":15},{"t":351,"v":30},{"t":353,"v":12},
{"t":360,"v":18},{"t":365,"v":24},{"t":370,"v":28},{"t":375,"v":16},{"t":380,"v":15},{"t":385,"v":26},{"t":390,"v":25},{"t":395,"v":18},{"t":400,"v":20},{"t":405,"v":28},{"t":410,"v":30},{"t":415,"v":22},
{"t":420,"v":22},{"t":425,"v":18},{"t":430,"v":16},{"t":435,"v":26},{"t":440,"v":30},{"t":445,"v":20},{"t":450,"v":20},{"t":455,"v":28},{"t":460,"v":26},{"t":465,"v":20},{"t":470,"v":18},{"t":475,"v":24},
{"t":480,"v":28},{"t":485,"v":22},{"t":490,"v":20},{"t":495,"v":30},{"t":500,"v":32},{"t":505,"v":24},{"t":510,"v":24},{"t":515,"v":30},{"t":520,"v":30},{"t":525,"v":22},{"t":530,"v":22},{"t":535,"v":28},
{"t":540,"v":30},{"t":545,"v":38},{"t":550,"v":26},{"t":555,"v":42},{"t":560,"v":38},{"t":565,"v":48},{"t":570,"v":45},{"t":575,"v":36},{"t":580,"v":40},{"t":585,"v":52},{"t":590,"v":55},{"t":595,"v":44},
{"t":600,"v":48},{"t":605,"v":58},{"t":610,"v":60},{"t":615,"v":45},{"t":620,"v":42},{"t":625,"v":56},{"t":630,"v":55},{"t":635,"v":46},{"t":640,"v":50},{"t":645,"v":60},{"t":650,"v":62},{"t":655,"v":50},
{"t":660,"v":52},{"t":665,"v":48},{"t":670,"v":45},{"t":675,"v":58},{"t":680,"v":60},{"t":685,"v":50},{"t":690,"v":50},{"t":695,"v":62},{"t":700,"v":65},{"t":705,"v":52},{"t":710,"v":48},{"t":715,"v":56},
{"t":720,"v":58},{"t":725,"v":50},{"t":730,"v":45},{"t":735,"v":62},{"t":740,"v":70},{"t":745,"v":52},{"t":750,"v":50},{"t":755,"v":58},{"t":760,"v":62},{"t":765,"v":50},{"t":770,"v":55},{"t":775,"v":60},
{"t":780,"v":48},{"t":785,"v":62},{"t":790,"v":72},{"t":795,"v":55},{"t":800,"v":52},{"t":805,"v":68},{"t":810,"v":65},{"t":815,"v":50},{"t":820,"v":45},{"t":825,"v":60},{"t":830,"v":68},{"t":835,"v":55},
{"t":840,"v":55},{"t":845,"v":66},{"t":850,"v":75},{"t":855,"v":58},{"t":860,"v":50},{"t":865,"v":62},{"t":870,"v":68},{"t":875,"v":56},{"t":880,"v":58},{"t":885,"v":70},{"t":890,"v":72},{"t":895,"v":60},
{"t":900,"v":50},{"t":905,"v":62},{"t":910,"v":70},{"t":915,"v":58},{"t":920,"v":55},{"t":925,"v":72},{"t":930,"v":78},{"t":935,"v":60},{"t":940,"v":48},{"t":945,"v":58},{"t":950,"v":65},{"t":955,"v":55},
{"t":960,"v":60},{"t":965,"v":68},{"t":970,"v":72},{"t":975,"v":58},{"t":980,"v":52},{"t":985,"v":62},{"t":990,"v":68},{"t":995,"v":58},{"t":1000,"v":55},{"t":1005,"v":66},{"t":1010,"v":75},{"t":1015,"v":62},
{"t":1020,"v":58},{"t":1025,"v":64},{"t":1030,"v":70},{"t":1035,"v":56},{"t":1040,"v":50},{"t":1045,"v":60},{"t":1050,"v":66},{"t":1055,"v":58},{"t":1060,"v":55},{"t":1065,"v":62},{"t":1070,"v":62},{"t":1075,"v":52},
{"t":1080,"v":48},{"t":1085,"v":55},{"t":1090,"v":60},{"t":1095,"v":48},{"t":1100,"v":42},{"t":1105,"v":50},{"t":1110,"v":55},{"t":1115,"v":46},{"t":1120,"v":45},{"t":1125,"v":52},{"t":1130,"v":58},{"t":1135,"v":48},
{"t":1140,"v":40},{"t":1145,"v":48},{"t":1150,"v":55},{"t":1155,"v":44},{"t":1160,"v":38},{"t":1165,"v":46},{"t":1170,"v":50},{"t":1175,"v":44},{"t":1180,"v":42},{"t":1185,"v":46},{"t":1190,"v":48},{"t":1195,"v":40},
{"t":1200,"v":38},{"t":1205,"v":46},{"t":1210,"v":52},{"t":1215,"v":40},{"t":1220,"v":35},{"t":1225,"v":44},{"t":1230,"v":48},{"t":1235,"v":42},{"t":1240,"v":40},{"t":1245,"v":50},{"t":1250,"v":55},{"t":1255,"v":44},
{"t":1260,"v":42},{"t":1265,"v":38},{"t":1270,"v":36},{"t":1275,"v":46},{"t":1280,"v":50},{"t":1285,"v":42},{"t":1290,"v":40},{"t":1295,"v":48},{"t":1300,"v":55},{"t":1305,"v":44},{"t":1310,"v":38},{"t":1315,"v":40},
{"t":1320,"v":45},{"t":1325,"v":40},{"t":1330,"v":35},{"t":1335,"v":44},{"t":1340,"v":50},{"t":1345,"v":42},{"t":1350,"v":40},{"t":1355,"v":48},{"t":1360,"v":52},{"t":1365,"v":44},{"t":1370,"v":38},{"t":1375,"v":42},
{"t":1380,"v":40},{"t":1385,"v":45},{"t":1390,"v":48},{"t":1395,"v":38},{"t":1400,"v":35},{"t":1405,"v":42},{"t":1410,"v":45},{"t":1415,"v":40},{"t":1420,"v":38},{"t":1425,"v":42},{"t":1430,"v":42},{"t":1435,"v":38},{"t":1440,"v":35}
    ],
    "search": [
{"t":0,"v":97},{"t":2,"v":20},{"t":15,"v":8},{"t":30,"v":5},{"t":45,"v":10},
{"t":60,"v":4},{"t":75,"v":9},{"t":90,"v":6},{"t":105,"v":11},
{"t":120,"v":7},{"t":135,"v":3},{"t":150,"v":10},{"t":165,"v":5},
{"t":180,"v":9},{"t":195,"v":4},{"t":210,"v":12},{"t":225,"v":6},
{"t":240,"v":5},{"t":255,"v":10},{"t":270,"v":4},{"t":285,"v":8},
{"t":300,"v":6},{"t":315,"v":3},{"t":330,"v":9},{"t":345,"v":5},
{"t":360,"v":4},{"t":375,"v":8},{"t":390,"v":3},{"t":405,"v":7},
{"t":420,"v":6},{"t":435,"v":10},{"t":450,"v":5},{"t":465,"v":12},
{"t":480,"v":14},{"t":495,"v":8},{"t":510,"v":18},{"t":525,"v":10},
{"t":540,"v":12},{"t":555,"v":20},{"t":570,"v":14},{"t":585,"v":22},
{"t":600,"v":18},{"t":615,"v":25},{"t":630,"v":15},{"t":645,"v":22},
{"t":660,"v":20},{"t":675,"v":14},{"t":690,"v":24},{"t":705,"v":16},
{"t":720,"v":15},{"t":735,"v":22},{"t":750,"v":12},{"t":765,"v":18},
{"t":780,"v":10},{"t":795,"v":16},{"t":810,"v":12},{"t":825,"v":20},
{"t":840,"v":14},{"t":855,"v":10},{"t":870,"v":18},{"t":885,"v":12},
{"t":900,"v":16},{"t":915,"v":11},{"t":930,"v":20},{"t":945,"v":13},
{"t":960,"v":12},{"t":975,"v":18},{"t":990,"v":10},{"t":1005,"v":15},
{"t":1020,"v":14},{"t":1035,"v":9},{"t":1050,"v":16},{"t":1065,"v":11},
{"t":1080,"v":10},{"t":1095,"v":15},{"t":1110,"v":8},{"t":1125,"v":12},
{"t":1140,"v":9},{"t":1155,"v":14},{"t":1170,"v":7},{"t":1185,"v":11},
{"t":1200,"v":12},{"t":1215,"v":8},{"t":1230,"v":15},{"t":1245,"v":10},
{"t":1260,"v":9},{"t":1275,"v":13},{"t":1290,"v":7},{"t":1305,"v":11},
{"t":1320,"v":10},{"t":1335,"v":15},{"t":1350,"v":8},{"t":1365,"v":18},
{"t":1380,"v":12},{"t":1395,"v":40},{"t":1410,"v":14},{"t":1425,"v":20},{"t":1440,"v":15}
    ]
  },
  "encoding": {
    "x": {
      "field": "t", "type": "quantitative",
      "scale": {"domain": [-29.4, 1469.4], "nice": false, "zero": false},
      "axis": {
        "title": "Time", "titlePadding": 4,
        "values": [0,60,120,180,240,300,360,420,480,540,600,660,720,780,840,900,960,1020,1080,1140,1200,1260,1320,1380,1440],
        "labelExpr": "(floor(datum.value/60)%24<10?'0':'')+(floor(datum.value/60)%24)+':00'",
        "labelPadding": 3
      }
    },
    "y": {
      "field": "v", "type": "quantitative",
      "scale": {"domain": [0, 961], "nice": false},
      "axis": {
        "title": "calls/min", "titlePadding": 8,
        "values": [0,50,100,150,200,250,300,350,400,450,500,550,600,650,700,750,800,850,900,950],
        "labelPadding": 2
      }
    }
  },
  "layer": [
    {
      "data": {"name": "appt"},
      "mark": {"type": "line", "strokeWidth": 1, "clip": true},
      "encoding": {
        "stroke": {
          "datum": "GetAppointmentRequest",
          "scale": {
            "domain": ["MsgActionRequest.update","GetAppointmentRequest"],
            "range": ["#C00000","#0000C0"]
          },
          "legend": {
            "title": null, "orient": "none", "legendX": -51, "legendY": 372, "zindex": 2,
            "direction": "horizontal",
            "symbolType": "stroke", "symbolSize": 225, "symbolStrokeWidth": 1.2,
            "labelOffset": 3, "columnPadding": 4, "padding": 2,
            "labelFontSize": 11, "labelLimit": 300
          }
        }
      }
    },
    {
      "data": {"name": "update"},
      "mark": {"type": "line", "strokeWidth": 1, "clip": true},
      "encoding": {"stroke": {"datum": "MsgActionRequest.update"}}
    },
    {
      "data": {"name": "sync"},
      "mark": {"type": "line", "strokeWidth": 1, "clip": true},
      "encoding": {
        "color": {
          "datum": "SyncRequest",
          "scale": {
            "domain": ["ModifyContactRequest","SearchConvRequest","GetFolderRequest","SearchRequest","ItemActionRequest.delete","MsgActionRequest.delete","NoOpRequest","SyncRequest"],
            "range": ["#FF5555","#5555FF","#55FF55","#FFFF55","#FF55FF","#55FFFF","#FFAFAF","#808080"]
          },
          "legend": {
            "title": "\u00a0\u00a0\u00a0\u00a0\u00a0\u00a0\u00a0\u00a0\u00a0\u00a0\u00a0\u00a0\u00a0\u00a0\u00a0\u00a0\u00a0\u00a0\u00a0\u00a0\u00a0\u00a0\u00a0\u00a0\u00a0\u00a0\u00a0\u00a0\u00a0\u00a0\u00a0\u00a0\u00a0\u00a0\u00a0\u00a0\u00a0\u00a0\u00a0\u00a0\u00a0\u00a0\u00a0\u00a0\u00a0\u00a0\u00a0\u00a0\u00a0\u00a0\u00a0\u00a0\u00a0\u00a0\u00a0\u00a0\u00a0\u00a0\u00a0\u00a0\u00a0\u00a0\u00a0\u00a0\u00a0\u00a0\u00a0\u00a0\u00a0\u00a0\u00a0\u00a0\u00a0\u00a0\u00a0\u00a0\u00a0\u00a0\u00a0\u00a0\u00a0\u00a0\u00a0\u00a0\u00a0\u00a0\u00a0\u00a0\u00a0\u00a0\u00a0\u00a0\u00a0\u00a0\u00a0\u00a0\u00a0\u00a0\u00a0\u00a0\u00a0\u00a0\u00a0\u00a0\u00a0\u00a0\u00a0\u00a0\u00a0\u00a0\u00a0\u00a0\u00a0\u00a0\u00a0\u00a0\u00a0\u00a0\u00a0\u00a0\u00a0\u00a0\u00a0\u00a0\u00a0\u00a0\u00a0\u00a0\u00a0\u00a0\u00a0\u00a0\u00a0\u00a0\u00a0\u00a0\u00a0\u00a0\u00a0\u00a0\u00a0\u00a0\u00a0\u00a0\u00a0\u00a0\u00a0\u00a0\u00a0\u00a0\u00a0\u00a0\u00a0\u00a0\u00a0\u00a0\u00a0\u00a0\u00a0\u00a0\u00a0\u00a0\u00a0\u00a0\u00a0\u00a0\u00a0\u00a0\u00a0\u00a0\u00a0\u00a0\u00a0\u00a0\u00a0\u00a0\u00a0\u00a0\u00a0\u00a0\u00a0\u00a0\u00a0\u00a0\u00a0\u00a0\u00a0\u00a0\u00a0\u00a0\u00a0\u00a0\u00a0\u00a0\u00a0\u00a0\u00a0\u00a0\u00a0\u00a0\u00a0\u00a0\u00a0\u00a0\u00a0\u00a0\u00a0\u00a0\u00a0\u00a0\u00a0\u00a0\u00a0\u00a0\u00a0\u00a0\u00a0\u00a0\u00a0\u00a0\u00a0\u00a0\u00a0\u00a0\u00a0\u00a0\u00a0\u00a0\u00a0\u00a0\u00a0\u00a0\u00a0\u00a0\u00a0\u00a0\u00a0\u00a0\u00a0\u00a0\u00a0\u00a0\u00a0\u00a0\u00a0\u00a0\u00a0\u00a0\u00a0\u00a0\u00a0\u00a0\u00a0\u00a0\u00a0\u00a0\u00a0\u00a0\u00a0\u00a0\u00a0\u00a0\u00a0\u00a0\u00a0\u00a0\u00a0\u00a0\u00a0\u00a0\u00a0\u00a0\u00a0\u00a0\u00a0\u00a0\u00a0\u00a0\u00a0\u00a0\u00a0\u00a0\u00a0\u00a0\u00a0\u00a0\u00a0\u00a0\u00a0\u00a0\u00a0\u00a0\u00a0\u00a0\u00a0\u00a0\u00a0\u00a0\u00a0\u00a0\u00a0\u00a0\u00a0\u00a0\u00a0\u00a0\u00a0\u00a0\u00a0\u00a0\u00a0\u00a0\u00a0\u00a0\u00a0\u00a0\u00a0\u00a0\u00a0\u00a0\u00a0\u00a0\u00a0\u00a0\u00a0\u00a0\u00a0\u00a0\u00a0\u00a0\u00a0\u00a0\u00a0\u00a0\u00a0\u00a0\u00a0\u00a0\u00a0\u00a0\u00a0\u00a0\u00a0\u00a0\u00a0\u00a0\u00a0\u00a0\u00a0\u00a0\u00a0\u00a0\u00a0\u00a0\u00a0\u00a0\u00a0\u00a0\u00a0\u00a0\u00a0\u00a0\u00a0\u00a0\u00a0\u00a0\u00a0\u00a0\u00a0\u00a0\u00a0\u00a0\u00a0\u00a0\u00a0\u00a0\u00a0\u00a0\u00a0\u00a0\u00a0\u00a0\u00a0\u00a0\u00a0\u00a0\u00a0\u00a0\u00a0\u00a0\u00a0\u00a0\u00a0\u00a0\u00a0\u00a0\u00a0\u00a0\u00a0\u00a0\u00a0\u00a0\u00a0\u00a0\u00a0\u00a0\u00a0\u00a0\u00a0\u00a0\u00a0\u00a0\u00a0\u00a0\u00a0\u00a0\u00a0\u00a0\u00a0\u00a0\u00a0\u00a0\u00a0\u00a0\u00a0\u00a0\u00a0\u00a0\u00a0\u00a0\u00a0\u00a0\u00a0\u00a0\u00a0\u00a0\u00a0\u00a0\u00a0\u00a0\u00a0\u00a0\u00a0\u00a0\u00a0\u00a0\u00a0\u00a0\u00a0\u00a0\u00a0\u00a0\u00a0\u00a0\u00a0\u00a0\u00a0\u00a0\u00a0\u00a0\u00a0\u00a0\u00a0\u00a0\u00a0\u00a0\u00a0\u00a0\u00a0\u00a0\u00a0\u00a0\u00a0\u00a0\u00a0\u00a0\u00a0\u00a0\u00a0\u00a0\u00a0\u00a0\u00a0\u00a0\u00a0\u00a0\u00a0\u00a0\u00a0\u00a0\u00a0\u00a0\u00a0\u00a0\u00a0\u00a0\u00a0\u00a0\u00a0\u00a0\u00a0\u00a0\u00a0\u00a0\u00a0\u00a0",
            "titleOrient": "bottom", "titleFontSize": 12, "titleFontWeight": "normal", "titlePadding": 10, "titleLimit": 1190, "titleColor": "#FFFFFF",
            "orient": "none", "legendX": -51, "legendY": 353, "zindex": 1,
            "direction": "horizontal",
            "symbolType": "stroke", "symbolSize": 225, "symbolStrokeWidth": 1.2,
            "labelOffset": 3, "columnPadding": 4, "padding": 2,
            "strokeColor": "#000000", "fillColor": "#FFFFFF", "cornerRadius": 0,
            "labelFontSize": 11, "labelLimit": 300
          }
        }
      }
    },
    {
      "data": {"name": "noop"},
      "mark": {"type": "line", "strokeWidth": 1, "clip": true},
      "encoding": {"color": {"datum": "NoOpRequest"}}
    },
    {
      "data": {"name": "msgdel"},
      "mark": {"type": "line", "strokeWidth": 1, "clip": true},
      "encoding": {"color": {"datum": "MsgActionRequest.delete"}}
    },
    {
      "data": {"name": "itemdel"},
      "mark": {"type": "line", "strokeWidth": 1, "clip": true},
      "encoding": {"color": {"datum": "ItemActionRequest.delete"}}
    },
    {
      "data": {"name": "search"},
      "mark": {"type": "line", "strokeWidth": 1, "clip": true},
      "encoding": {"color": {"datum": "SearchRequest"}}
    },
    {
      "data": {"name": "m5"},
      "transform": [{"fold": ["g"], "as": ["k", "v"]}],
      "mark": {"type": "line", "strokeWidth": 1, "clip": true},
      "encoding": {"color": {"datum": "GetFolderRequest"}}
    },
    {
      "data": {"name": "m5"},
      "transform": [{"fold": ["b"], "as": ["k", "v"]}],
      "mark": {"type": "line", "strokeWidth": 1, "clip": true},
      "encoding": {"color": {"datum": "SearchConvRequest"}}
    },
    {
      "data": {"name": "modify"},
      "mark": {"type": "line", "strokeWidth": 1, "clip": true},
      "encoding": {"color": {"datum": "ModifyContactRequest"}}
    }
  ]
}
